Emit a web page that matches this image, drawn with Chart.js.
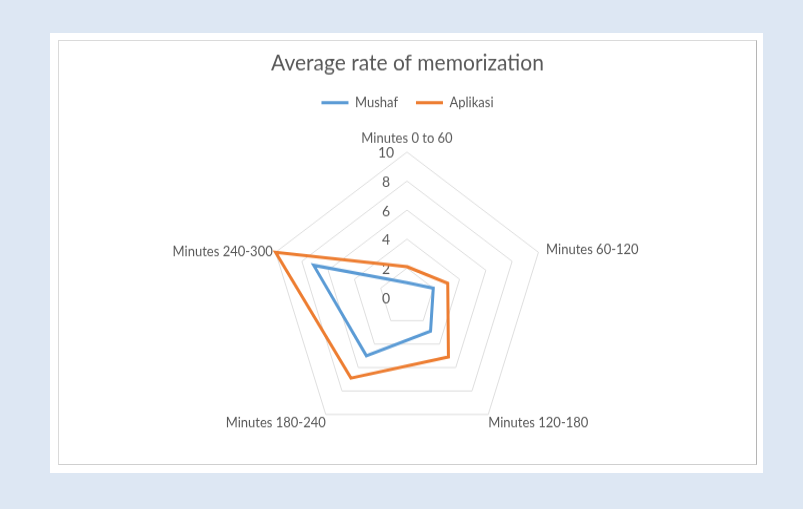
<!DOCTYPE html>
<html>
<head>
<meta charset="utf-8">
<script src="https://cdn.jsdelivr.net/npm/chart.js@4.4.0/dist/chart.umd.min.js"></script>
<style>
  html, body { margin: 0; padding: 0; }
  body { width: 803px; height: 509px; background: #dde7f3; position: relative; overflow: hidden; }
  #card { position: absolute; left: 50px; top: 33px; width: 713px; height: 440px; background: #fff; }
  #frame { position: absolute; left: 8px; top: 7px; width: 697px; height: 423px;
           border: 1px solid #dadada; border-right-color: #b5b5b5; border-bottom-color: #cfcfcf; }
  #chart { position: absolute; left: 0; top: 0; }
</style>
</head>
<body>
<div id="card"><div id="frame">
  <!-- drawn at 697x403 and shown a bit taller, like the stretched screenshot -->
  <canvas id="chart" width="697" height="403" style="width:697px;height:423px"></canvas>
</div></div>
<script>
var categories = ["Minutes 0 to 60", "Minutes 60-120", "Minutes 120-180", "Minutes 180-240", "Minutes 240-300"];
var mushaf = [1.0, 2.0, 2.9, 5.0, 7.1];
var aplikasi = [2.1, 3.1, 5.1, 6.9, 10];
var tickValues = [0, 2, 4, 6, 8, 10];

var FONT = "Lato, 'Open Sans', sans-serif";
var TEXT = "#595959";

// Excel puts the scale numbers left of the vertical axis, 0 included
var tickLabels = {
  id: "tickLabels",
  beforeDatasetsDraw: function(chart) {
    var r = chart.scales.r;
    var ctx = chart.ctx;
    ctx.save();
    ctx.font = "14px " + FONT;
    ctx.fillStyle = TEXT;
    ctx.textAlign = "center";
    ctx.textBaseline = "middle";
    r.ticks.forEach(function(t) {
      ctx.fillText(String(t.value), r.xCenter - 21, r.yCenter - r.getDistanceFromCenterForValue(t.value) + 1);
    });
    ctx.restore();
  }
};

var data = {
  labels: categories,
  datasets: [{
    label: "Mushaf",
    data: mushaf,
    borderColor: "#5b9bd5",
    backgroundColor: "#5b9bd5",
    borderWidth: 3,
    pointRadius: 0,
    fill: false
  }, {
    label: "Aplikasi",
    data: aplikasi,
    borderColor: "#ed7d31",
    backgroundColor: "#ed7d31",
    borderWidth: 3,
    pointRadius: 0,
    fill: false
  }]
};

var config = {
  type: "radar",
  data: data,
  options: {
    responsive: false,
    animation: false,
    layout: { padding: { top: 0, bottom: 9, left: 0, right: 0 } },
    plugins: {
      title: {
        display: true,
        text: "Average rate of memorization",
        color: TEXT,
        font: { family: FONT, size: 21, weight: "normal" },
        padding: { top: 9, bottom: 0 }
      },
      legend: {
        display: true,
        labels: {
          color: TEXT,
          font: { family: FONT, size: 13 },
          usePointStyle: true,
          pointStyle: "line",
          pointStyleWidth: 27,
          padding: 18
        }
      },
      tooltip: { enabled: false }
    },
    scales: {
      r: {
        min: 0,
        max: 10,
        afterBuildTicks: function(scale) {
          scale.ticks = tickValues.map(function(v) { return { value: v }; });
        },
        ticks: { display: false },
        grid: { color: "#dedede", lineWidth: 1 },
        angleLines: { display: false },
        pointLabels: {
          color: TEXT,
          padding: function(ctx) { return [5, 8, 0, 0, 3][ctx.index]; },
          font: function(ctx) {
            // side labels sit level with their corner
            var side = ctx.index === 1 || ctx.index === 4;
            return { family: FONT, size: 13, lineHeight: side ? 0 : 1.2 };
          }
        }
      }
    }
  },
  plugins: [tickLabels]
};

new Chart(document.getElementById("chart").getContext("2d"), config);
</script>
</body>
</html>
